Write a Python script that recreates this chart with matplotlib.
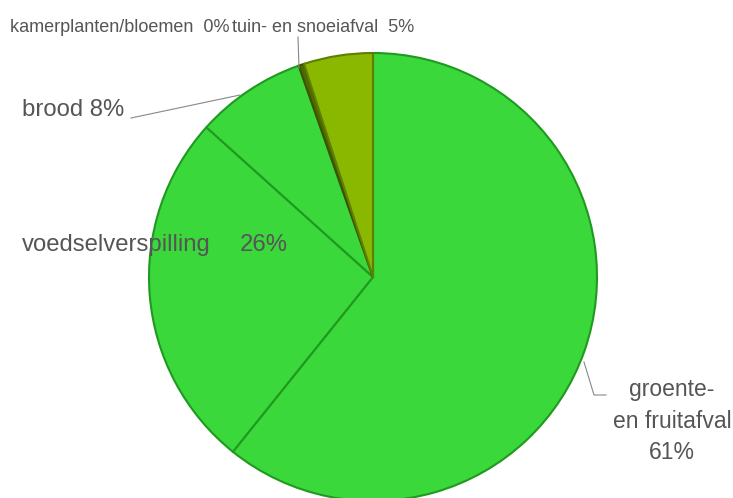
import matplotlib.pyplot as plt

plt.rcParams['font.family'] = ['Liberation Sans', 'DejaVu Sans']

categories = ['groente- en fruitafval', 'voedselverspilling', 'brood',
              'kamerplanten/bloemen', 'tuin- en snoeiafval']
values = [61, 26, 8, 0.4, 5]
pct_labels = ['61%', '26%', '8%', '0%', '5%']

colors = ['#3bd83b', '#3bd83b', '#3bd83b', '#4e6a00', '#8ab800']
edges = ['#1f9a1f', '#1f9a1f', '#1f9a1f', '#3d5200', '#5f7f00']

W, H = 733, 498
fig = plt.figure(figsize=(W / 100, H / 100), dpi=100)
ax = fig.add_axes([0, 0, 1, 1])

cx, cy, r = 373, H - 277, 224
wedges, _ = ax.pie(values, colors=colors, startangle=90, counterclock=False,
                   radius=r, center=(cx, cy), frame=True,
                   wedgeprops=dict(linewidth=1.5))
for w, ec in zip(wedges, edges):
    w.set_edgecolor(ec)

ax.set_xlim(0, W)
ax.set_ylim(0, H)
ax.set_aspect('equal')
ax.axis('off')

tc = '#555555'
fs = 17.2
# labels (pixel coords from top-left converted to y-up)
ax.text(10, H - 27, f'{categories[3]}  {pct_labels[3]}', color=tc, fontsize=13,
        va='center', ha='left')
ax.text(232, H - 27, f'{categories[4]}  {pct_labels[4]}', color=tc, fontsize=13,
        va='center', ha='left')
ax.text(22, H - 110, f'{categories[2]} {pct_labels[2]}', color=tc, fontsize=fs,
        va='center', ha='left')
ax.text(22, H - 245, categories[1], color=tc, fontsize=fs,
        va='center', ha='left')
ax.text(240, H - 245, pct_labels[1], color=tc, fontsize=fs,
        va='center', ha='left')
ax.text(672, H - 421, 'groente-\nen fruitafval\n' + pct_labels[0], color=tc,
        fontsize=16.5, va='center', ha='center', linespacing=1.45)

# leader lines
lc = '#888888'
ax.plot([131, 240], [H - 118, H - 95], color=lc, lw=0.8)
ax.plot([298, 299], [H - 37, H - 68], color=lc, lw=0.8)
ax.plot([584, 594, 606], [H - 362, H - 395, H - 395], color=lc, lw=0.8)

fig.savefig('out.png', dpi=100)
